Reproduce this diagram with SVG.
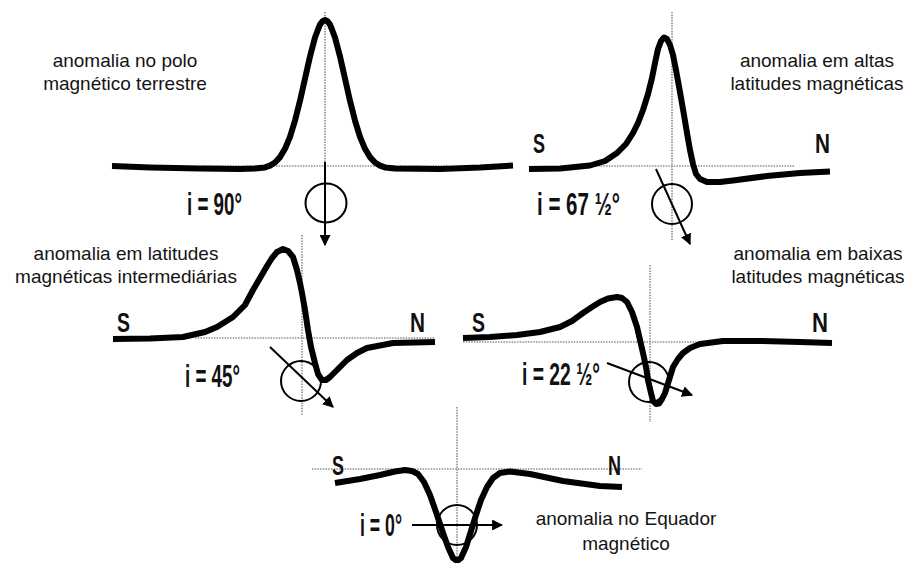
<svg xmlns="http://www.w3.org/2000/svg" width="908" height="563" viewBox="0 0 908 563">
<defs>
<style>
.lbl{font-family:"Liberation Sans",Arial,sans-serif;font-size:19px;fill:#141414;text-anchor:middle}
.bl{font-family:"Liberation Sans",Arial,sans-serif;font-weight:bold;font-size:31px;fill:#111}
.sn{font-family:"Liberation Sans",Arial,sans-serif;font-weight:bold;font-size:28px;fill:#111}
.curve{fill:none;stroke:#000;stroke-width:6;stroke-linejoin:round;stroke-linecap:butt}
.dot{fill:none;stroke:#8c8c8c;stroke-width:1.6;stroke-dasharray:1.5 1.2}
.ring{fill:none;stroke:#000;stroke-width:2}
.vec{fill:none;stroke:#000;stroke-width:2;marker-end:url(#ah)}
</style>
<marker id="ah" viewBox="0 0 10 10" refX="9" refY="5" markerWidth="5.5" markerHeight="5.5" orient="auto">
<path d="M0,0 L10,5 L0,10 z" fill="#000"/>
</marker>
</defs>
<rect width="908" height="563" fill="#fff"/>

<g id="panel-pole">
<line class="dot" x1="203" y1="166" x2="448" y2="166"/>
<line class="dot" x1="325" y1="12" x2="325" y2="166"/>
<ellipse class="ring" cx="326" cy="203" rx="20.5" ry="19.5"/>
<path class="curve" d="M112,166 L150,167.5 L200,168.5 L240,169 L255,168.6 L265,167.4 L270,165.6 L275,162.5 L280,157.1 L285,148.8 L290,136.8 L295,120.6 L300,100.8 L305,78.6 L310,56.5 L315,37.5 L318,29.5 L320,24.6 L322.5,21.2 L325,20 L327.5,21.2 L330,24.6 L332,29.5 L335,37.5 L340,56.5 L345,78.6 L350,100.8 L355,120.6 L360,136.8 L365,148.8 L370,157.1 L375,162.5 L380,165.6 L385,167.4 L395,168.6 L440,169 L480,167.5 L513,165.5"/>
<text class="lbl" x="125" y="67">anomalia no polo</text>
<text class="lbl" x="125" y="90">magnético terrestre</text>
<text class="bl" x="187" y="215" textLength="55" lengthAdjust="spacingAndGlyphs">i = 90°</text>
</g>

<g id="panel-high">
<line class="dot" x1="590" y1="166" x2="795" y2="166"/>
<line class="dot" x1="672" y1="12" x2="672" y2="240"/>
<circle class="ring" cx="672" cy="204" r="20"/>
<path class="curve" d="M529,169 L560,168.5 L590,165.5 L605,161 L617,153 L626,144 L633,133 L638,123 L643,110 L648,94 L652,78 L655,63 L658,49 L661,41 L664,37.5 L667,39 L670,45 L673,55 L676,70 L680,92 L684,115 L687,133 L690,150 L693,164 L696,174 L700,179 L707,182 L720,182 L733,180.5 L767,176 L800,173 L830,171.5"/>
<text class="lbl" x="817" y="67">anomalia em altas</text>
<text class="lbl" x="817" y="90">latitudes magnéticas</text>
<text class="sn" x="533" y="153" textLength="12" lengthAdjust="spacingAndGlyphs">S</text>
<text class="sn" x="815" y="153" textLength="15" lengthAdjust="spacingAndGlyphs">N</text>
<text class="bl" x="537" y="215" textLength="83" lengthAdjust="spacingAndGlyphs">i = 67 ½°</text>
</g>

<g id="panel-mid">
<line class="dot" x1="195" y1="338" x2="435" y2="338"/>
<line class="dot" x1="302" y1="235" x2="302" y2="415"/>
<circle class="ring" cx="301" cy="381" r="20"/>
<path class="curve" d="M113,339 L150,338.5 L183,337 L205,332 L217,327 L233,317 L245,305 L253,290 L260,278 L267,266 L272,258 L277,252 L283,249 L288,251 L293,257 L297,270 L300,283 L302,293 L305,310 L308,330 L311,347 L315,363 L318,374 L322,380 L326,380 L330,377 L338,369 L347,360 L357,353 L367,348 L393,343 L435,342"/>
<text class="lbl" x="126" y="260">anomalia em latitudes</text>
<text class="lbl" x="126" y="283">magnéticas intermediárias</text>
<text class="sn" x="117" y="332" textLength="13" lengthAdjust="spacingAndGlyphs">S</text>
<text class="sn" x="410" y="332" textLength="15" lengthAdjust="spacingAndGlyphs">N</text>
<text class="bl" x="185" y="387" textLength="55" lengthAdjust="spacingAndGlyphs">i = 45°</text>
</g>

<g id="panel-low">
<line class="dot" x1="463" y1="342" x2="718" y2="342"/>
<line class="dot" x1="650" y1="265" x2="650" y2="422"/>
<circle class="ring" cx="649" cy="382" r="20"/>
<path class="curve" d="M463,338 L490,337 L517,335 L540,332 L560,327 L572,321 L583,313 L592,307 L600,302 L608,298.5 L617,297 L622,298 L627,302 L632,312 L637,327 L640,340 L643,353 L646,367 L648,380 L651,393 L653,401 L656,404 L659,403.5 L662,399 L665,393 L669,380 L673,367 L678,359 L683,353 L690,348 L700,344 L723,341 L760,341 L800,342 L832,343"/>
<text class="lbl" x="818" y="260">anomalia em baixas</text>
<text class="lbl" x="818" y="283">latitudes magnéticas</text>
<text class="sn" x="472" y="332" textLength="13" lengthAdjust="spacingAndGlyphs">S</text>
<text class="sn" x="812" y="332" textLength="16" lengthAdjust="spacingAndGlyphs">N</text>
<text class="bl" x="522" y="385" textLength="78" lengthAdjust="spacingAndGlyphs">i = 22 ½°</text>
</g>

<g id="panel-equator">
<line class="dot" x1="312" y1="469" x2="642" y2="469"/>
<line class="dot" x1="457" y1="407" x2="457" y2="563"/>
<circle class="ring" cx="457" cy="525" r="20"/>
<path class="curve" d="M335,483 L360,479 L380,475 L395,471.5 L405,470 L412,471 L418,474 L424,482 L430,495 L436,512 L442,530 L448,547 L453,558 L457,561 L461,558 L466,547 L471,531 L476,515 L481,500 L487,487 L493,478 L500,473 L510,471.5 L530,474 L563,481 L600,486 L622,487"/>
<text class="lbl" x="626" y="525">anomalia no Equador</text>
<text class="lbl" x="626" y="550">magnético</text>
<text class="sn" x="332" y="475" textLength="12" lengthAdjust="spacingAndGlyphs">S</text>
<text class="sn" x="608" y="475" textLength="13" lengthAdjust="spacingAndGlyphs">N</text>
<text class="bl" x="360" y="536" textLength="42" lengthAdjust="spacingAndGlyphs">i = 0°</text>
</g>

<g id="connectors">
<line class="vec" x1="325" y1="162" x2="325" y2="245"/>
<line class="vec" x1="656" y1="169" x2="690" y2="244"/>
<line class="vec" x1="270" y1="347" x2="333" y2="407"/>
<line class="vec" x1="607" y1="363" x2="692" y2="395"/>
<line class="vec" x1="412" y1="525" x2="502" y2="525"/>
</g>
</svg>
